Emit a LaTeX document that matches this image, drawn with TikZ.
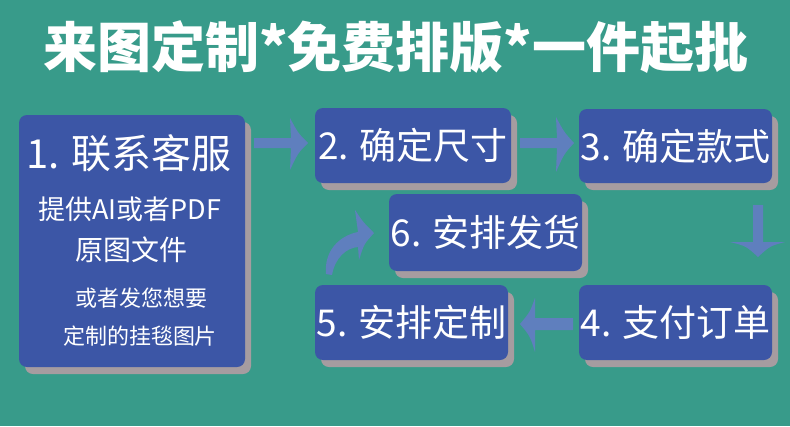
\documentclass[tikz,border=0pt]{standalone}
\usepackage{fontspec}
\setmainfont{Noto Sans CJK SC}
\usetikzlibrary{shadows}
\definecolor{bgteal}{RGB}{56,155,138}
\definecolor{boxblue}{RGB}{60,86,166}
\definecolor{shadowc}{RGB}{166,156,160}
\definecolor{arrowblue}{RGB}{95,127,190}
\tikzset{
  stepbox/.style={fill=boxblue, rounded corners=8pt, inner sep=0pt,
    drop shadow={shadow xshift=6pt, shadow yshift=-7pt, fill=shadowc, opacity=1}},
  boxtext/.style={text=white, inner sep=0pt, font=\fontsize{37pt}{44pt}\selectfont},
  subtext/.style={text=white, inner sep=0pt},
  blockarrow/.style={fill=arrowblue, draw=none}
}
\begin{document}
\begin{tikzpicture}[x=1pt,y=-1pt]
\fill[bgteal] (0,0) rectangle (790,426);
\useasboundingbox (0,0) rectangle (790,426);
% title
\node[text=white, inner sep=0pt, font=\bfseries\fontsize{54pt}{60pt}\selectfont] (title) at (396,47) {来图定制*免费排版*一件起批};
% boxes
\node[stepbox, minimum width=226pt, minimum height=252pt] (b1) at (132,241) {};
\node[stepbox, minimum width=196pt, minimum height=75pt] (b2) at (413,145.5) {};
\node[stepbox, minimum width=193pt, minimum height=74pt] (b3) at (675.5,146) {};
\node[stepbox, minimum width=193pt, minimum height=77pt] (b6) at (485.5,232.5) {};
\node[stepbox, minimum width=193pt, minimum height=75pt] (b5) at (411.5,322.5) {};
\node[stepbox, minimum width=193pt, minimum height=75pt] (b4) at (675.5,322.5) {};
% texts
\node[boxtext, font=\fontsize{40pt}{48pt}\selectfont] (t1) at (129,153) {1. 联系客服};
\node[subtext, font=\fontsize{27pt}{32pt}\selectfont] (t1b) at (130,209) {提供AI或者PDF};
\node[subtext, font=\fontsize{28pt}{32pt}\selectfont] (t1c) at (131,250) {原图文件};
\node[subtext, font=\fontsize{22pt}{26pt}\selectfont] (t1d) at (141,298) {或者发您想要};
\node[subtext, font=\fontsize{22pt}{26pt}\selectfont] (t1e) at (140,336) {定制的挂毯图片};
\node[boxtext] (t2) at (b2) {2. 确定尺寸};
\node[boxtext] (t3) at (b3) {3. 确定款式};
\node[boxtext] (t6) at (b6) {6. 安排发货};
\node[boxtext] (t5) at (b5) {5. 安排定制};
\node[boxtext] (t4) at (b4) {4. 支付订单};
% arrows 1 -> 2
\fill[blockarrow] (254,138) -- (291,138) -- (290,118) .. controls (298,133) .. (308,143)
  .. controls (298,153) .. (290,170) -- (291,148) -- (254,148) -- cycle;
% 2 -> 3
\fill[blockarrow] (520,138) -- (557,138) -- (556,117) .. controls (564,132) .. (574,143)
  .. controls (564,154) .. (556,172) -- (557,148) -- (520,148) -- cycle;
% 3 -> 4
\fill[blockarrow] (753,205) -- (753,242) -- (730,242) .. controls (746,246) .. (758,257)
  .. controls (770,246) .. (785,242) -- (763,242) -- (763,205) -- cycle;
% 4 -> 5
\fill[blockarrow] (573,318) -- (535,318) -- (535,298) .. controls (530,312) .. (520,324)
  .. controls (530,336) .. (535,352) -- (535,330) -- (573,330) -- cycle;
% 5 -> 6 curved
\fill[blockarrow] (326,274) .. controls (324,252) and (338,236) .. (358,232)
  -- (355,210) .. controls (363,222) .. (374,233) .. controls (364,244) .. (359,260)
  -- (358,247) .. controls (346,248) and (335,258) .. (332,275) -- cycle;
\end{tikzpicture}
\end{document}
